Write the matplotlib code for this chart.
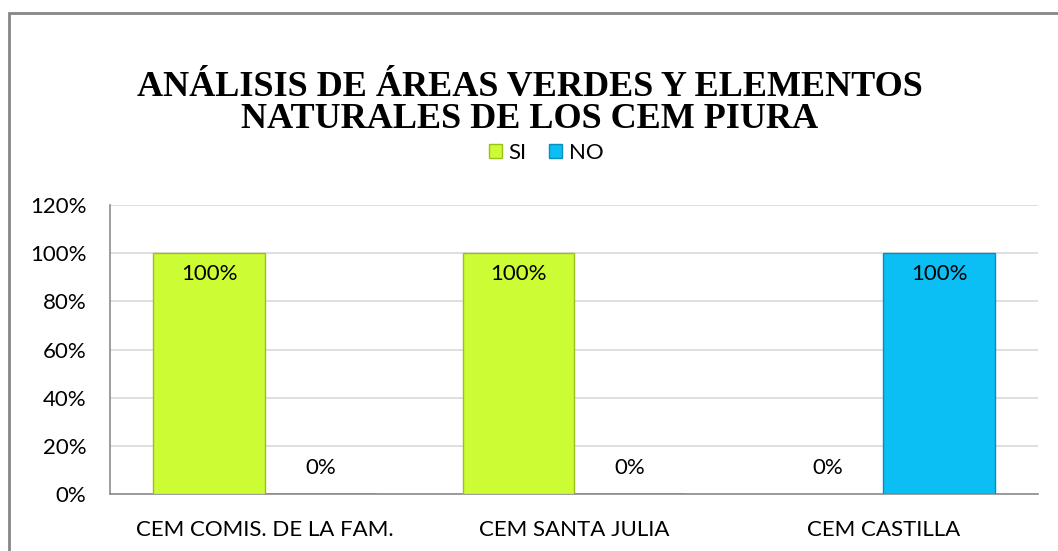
import matplotlib.pyplot as plt
import numpy as np
from matplotlib.patches import Rectangle
from matplotlib.ticker import FuncFormatter

categories = ["CEM COMIS. DE LA FAM.", "CEM SANTA JULIA", "CEM CASTILLA"]
si_values = [1.0, 1.0, 0.0]
no_values = [0.0, 0.0, 1.0]
series_names = ["SI", "NO"]

GREEN = "#CCFC33"
GREEN_EDGE = "#9DBF1E"
BLUE = "#0BBEF3"
BLUE_EDGE = "#0A8DB8"
SANS = ["Lato", "DejaVu Sans"]
FS = 16

W, H = 1058, 551
fig = plt.figure(figsize=(W / 100, H / 100), dpi=100)
fig.patch.set_facecolor("white")

# outer chart frame (runs past the right/bottom edge of the crop)
fig.patches.append(Rectangle((9 / W, -0.05), 1.1, 1 - 13 / H + 0.05,
                             transform=fig.transFigure, fill=False,
                             edgecolor="#868686", linewidth=2.0))

ax = fig.add_axes([110 / W, 1 - 494 / H, (1038 - 110) / W, (494 - 205) / H])

x = np.arange(len(categories))
bw = 0.36
b1 = ax.bar(x - bw / 2, si_values, bw, color=GREEN, edgecolor=GREEN_EDGE,
            linewidth=1.0, label=series_names[0], zorder=3)
b2 = ax.bar(x + bw / 2, no_values, bw, color=BLUE, edgecolor=BLUE_EDGE,
            linewidth=1.0, label=series_names[1], zorder=3)

for bars, vals in ((b1, si_values), (b2, no_values)):
    for bar, v in zip(bars, vals):
        off = -15 if v > 0 else 19
        ax.annotate(f"{v:.0%}", (bar.get_x() + bar.get_width() / 2, v),
                    xytext=(0, off), textcoords="offset points",
                    ha="center", va="center", fontsize=FS, family=SANS)

ax.set_xlim(-0.5, len(categories) - 0.5)
ax.set_ylim(0, 1.2)
ax.set_yticks(np.arange(0, 1.21, 0.2))
ax.yaxis.set_major_formatter(FuncFormatter(lambda v, _: f"{v:.0%}"))
ax.set_xticks(x)
ax.set_xticklabels(categories)
for lab in ax.get_xticklabels() + ax.get_yticklabels():
    lab.set_family(SANS)
    lab.set_fontsize(FS)
ax.tick_params(axis="y", length=0, pad=17)
ax.tick_params(axis="x", length=0, pad=19)
ax.grid(axis="y", color="#D9D9D9", linewidth=1.2, zorder=0)
for s in ("top", "right"):
    ax.spines[s].set_visible(False)
for s in ("left", "bottom"):
    ax.spines[s].set_color("#8C8C8C")
    ax.spines[s].set_linewidth(1.2)

fig.text(530 / W, 1 - 87 / H, "ANÁLISIS DE ÁREAS VERDES Y ELEMENTOS",
         ha="center", va="center", fontsize=26, fontweight="bold",
         family="Liberation Serif")
fig.text(530 / W, 1 - 120 / H, "NATURALES DE LOS CEM PIURA",
         ha="center", va="center", fontsize=26, fontweight="bold",
         family="Liberation Serif")

fig.legend(loc="center", bbox_to_anchor=(546 / W, 1 - 153 / H), ncol=2,
           frameon=False, prop={"family": SANS, "size": FS},
           handlelength=0.6, handleheight=0.6, handletextpad=0.3,
           columnspacing=1.0)

fig.savefig("out.png", dpi=100)
